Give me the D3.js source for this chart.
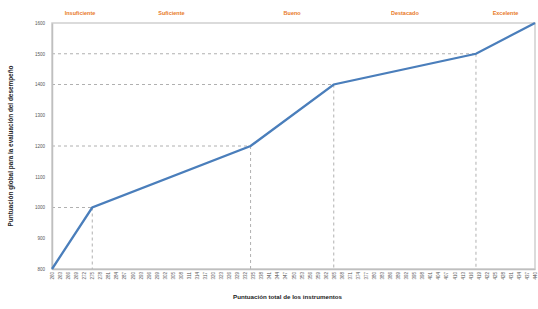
<!DOCTYPE html>
<html>
<head>
<meta charset="utf-8">
<script src="https://cdn.jsdelivr.net/npm/d3@7"></script>
<style>
    body { margin: 0; background: #fff; }
    svg { display: block; font-family: "Liberation Sans", Arial, sans-serif; }
</style>
</head>
<body>
<div id="chart"></div>
<script>
    // breakpoints of the scale: total instrument score -> global score
    const scoreX = [260, 275, 334, 365, 418, 440];
    const scoreY = [800, 1000, 1200, 1400, 1500, 1600];
    const levels = ['Insuficiente', 'Suficiente', 'Bueno', 'Destacado', 'Excelente'];
    const yTicks = [800, 900, 1000, 1100, 1200, 1300, 1400, 1500, 1600];
    const xTicks = d3.range(260, 441, 3);

    (function () {
        const [width, height] = [538, 309];
        const [marginLeft, marginRight, marginTop, marginBottom] = [52, 3, 23, 40];

        let svg = d3.select('#chart')
                    .append('svg')
                    .attr('width', width)
                    .attr('height', height);

        let x = d3.scaleLinear()
                  .domain([scoreX[0], scoreX[scoreX.length - 1]])
                  .range([marginLeft, width - marginRight]);
        let y = d3.scaleLinear()
                  .domain([800, 1600])
                  .range([height - marginBottom, marginTop]);

        let points = scoreX.map((v, i) => ({x: v, y: scoreY[i]}));

        // plot frame
        svg.append('rect')
           .attr('x', x.range()[0])
           .attr('y', marginTop)
           .attr('width', x.range()[1] - x.range()[0])
           .attr('height', y.range()[0] - marginTop)
           .attr('fill', 'none')
           .attr('stroke', '#cfcfcf')
           .attr('stroke-width', 1.5);

        // dashed guides at the breakpoints
        let inner = points.slice(1, -1);
        svg.selectAll('.hguide')
           .data(inner)
           .enter()
           .append('line')
           .attr('x1', x.range()[0])
           .attr('x2', d => x(d.x))
           .attr('y1', d => y(d.y))
           .attr('y2', d => y(d.y))
           .attr('stroke', '#b0b0b0')
           .attr('stroke-dasharray', '3,3');
        svg.selectAll('.vguide')
           .data(inner)
           .enter()
           .append('line')
           .attr('x1', d => x(d.x))
           .attr('x2', d => x(d.x))
           .attr('y1', d => y(d.y))
           .attr('y2', y.range()[0])
           .attr('stroke', '#b0b0b0')
           .attr('stroke-dasharray', '3,3');

        // y axis
        let yAxis = svg.append('g')
                       .attr('transform', `translate(${x.range()[0]}, 0)`)
                       .call(d3.axisLeft(y).tickValues(yTicks).tickSize(0).tickPadding(7)
                                .tickFormat(d3.format('d')));
        yAxis.select('.domain').attr('stroke', '#bfbfbf').attr('stroke-width', 1.5);
        yAxis.selectAll('text')
             .attr('font-size', '4.5px')
             .attr('fill', '#555');

        // x axis
        let xAxis = svg.append('g')
                       .attr('transform', `translate(0, ${y.range()[0]})`)
                       .call(d3.axisBottom(x).tickValues(xTicks).tickSize(0).tickPadding(0));
        xAxis.select('.domain').attr('stroke', '#bfbfbf').attr('stroke-width', 1.5);
        xAxis.selectAll('text')
             .attr('font-size', '4.5px')
             .attr('fill', '#555')
             .attr('text-anchor', 'end')
             .attr('dominant-baseline', 'central')
             .attr('transform', 'rotate(-90)')
             .attr('x', -3)
             .attr('y', 0)
             .attr('dy', null);

        // the line
        svg.append('path')
           .datum(points)
           .attr('fill', 'none')
           .attr('stroke', '#4a7ebb')
           .attr('stroke-width', 2.3)
           .attr('d', d3.line().x(d => x(d.x)).y(d => y(d.y)));

        // level names over each segment
        svg.selectAll('.level')
           .data(levels)
           .enter()
           .append('text')
           .attr('x', (d, i) => i === 0 ? x(scoreX[0]) + 28 : (x(scoreX[i]) + x(scoreX[i + 1])) / 2)
           .attr('y', 15)
           .attr('text-anchor', 'middle')
           .attr('font-size', '5.5px')
           .attr('font-weight', 'bold')
           .attr('fill', '#e8791f')
           .text(d => d);

        // axis titles
        svg.append('text')
           .attr('x', (x.range()[0] + x.range()[1]) / 2 - 6)
           .attr('y', 299)
           .attr('text-anchor', 'middle')
           .attr('font-size', '6.2px')
           .attr('font-weight', 'bold')
           .attr('fill', '#222')
           .text('Puntuación total de los instrumentos');

        svg.append('text')
           .attr('transform', `translate(13, ${(y.range()[0] + y.range()[1]) / 2}) rotate(-90)`)
           .attr('text-anchor', 'middle')
           .attr('font-size', '6.4px')
           .attr('font-weight', 'bold')
           .attr('fill', '#222')
           .text('Puntuación global para la evaluación del desempeño');
    })();
</script>
</body>
</html>
